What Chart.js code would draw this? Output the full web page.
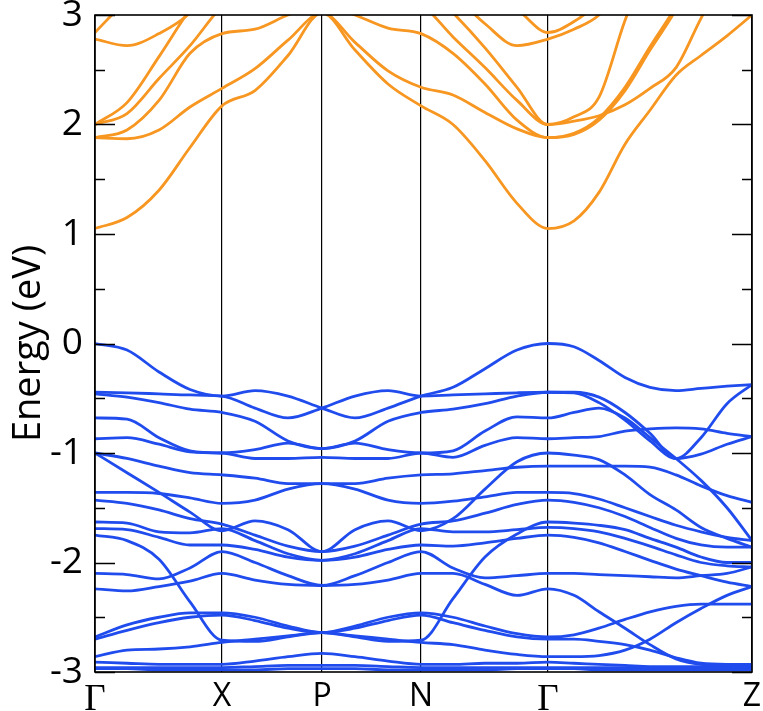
<!DOCTYPE html>
<html>
<head>
<meta charset="utf-8">
<script src="https://cdn.jsdelivr.net/npm/chart.js@4.4.1/dist/chart.umd.min.js"></script>
<style>
  html, body { margin: 0; background: #fff; }
  #wrap { width: 763px; height: 711px; }
</style>
</head>
<body>
<div id="wrap"><canvas id="bands" width="763" height="711"></canvas></div>
<script>
// k-path positions (path length units) where energies were read
const kPath = [0, 0.32, 0.64, 0.95, 1.27, 1.60, 1.93, 2.27, 2.60, 2.93, 3.26,
               3.58, 3.90, 4.22, 4.53, 4.79, 5.04, 5.30, 5.55, 5.81, 6.06, 6.32, 6.57];
const kTicks = [0, 1.27, 2.27, 3.26, 4.53, 6.57];
const kLabels = ['Γ', 'X', 'P', 'N', 'Γ', 'Z'];
const energyTicks = [-3, -2, -1, 0, 1, 2, 3];

// conduction bands (eV)
const conduction = [
  [1.05,1.15,1.40,1.79,2.17, 2.31,2.63,3.02, 2.68,2.37,2.17, 2.0,1.67,1.28,1.05, 1.12,1.38,1.82,2.13,2.45,2.63,2.81,3.0],
  [1.88,1.87,1.95,2.16,2.33, 2.51,2.77,3.02, 2.75,2.49,2.34, 2.27,2.11,1.96,1.88, 1.91,2.04,2.31,2.68,3.05,3.5,3.9,4.2],
  [1.88,1.95,2.22,2.65,2.83, 2.87,3.0,3.1, 3.0,2.88,2.83, 2.65,2.37,2.04,1.88, 1.92,2.06,2.34,2.71,3.08,3.5,3.9,4.2],
  [2.0,2.2,2.62,3.05,3.4, 3.6,3.6,3.5, 3.4,3.2,3.1, 2.8,2.52,2.22,2.0, 2.07,2.25,2.95,3.5,3.9,4.2,4.4,4.5],
  [2.0,2.1,2.42,2.72,3.08, 3.3,3.4,3.4, 3.4,3.35,3.3, 3.02,2.7,2.34,2.0, 2.03,2.08,2.18,2.33,2.52,2.97,3.4,3.8],
  [2.78,2.72,2.83,3.02,3.4, 3.6,3.7,3.7, 3.7,3.6,3.5, 3.2,2.92,2.72,2.78, 2.87,3.0,3.3,3.6,3.9,4.1,4.3,4.4],
  [2.84,3.15,3.5,3.8,4.0, 4.1,4.1,4.1, 4.1,4.0,3.9, 3.5,3.2,3.05,2.84, 2.94,3.12,3.4,3.7,4.0,4.2,4.4,4.5]
];

// valence bands (eV)
const valence = [
  [0,-0.06,-0.26,-0.42,-0.48, -0.43,-0.48,-0.59, -0.68,-0.59,-0.48, -0.40,-0.23,-0.06,0, -0.03,-0.155,-0.31,-0.40,-0.43,-0.41,-0.39,-0.375],
  [-0.445,-0.45,-0.46,-0.47,-0.48, -0.59,-0.68,-0.59, -0.48,-0.43,-0.48, -0.47,-0.46,-0.45,-0.445, -0.445,-0.49,-0.63,-0.82,-1.05,-0.86,-0.55,-0.375],
  [-0.46,-0.49,-0.54,-0.6,-0.63, -0.71,-0.89,-0.96, -0.89,-0.71,-0.63, -0.6,-0.55,-0.48,-0.445, -0.45,-0.54,-0.70,-0.89,-1.05,-1.01,-0.92,-0.85],
  [-0.68,-0.69,-0.86,-0.98,-1.0, -0.97,-0.91,-0.96, -0.91,-0.97,-1.0, -0.98,-0.8,-0.67,-0.68, -0.63,-0.59,-0.68,-0.86,-1.05,-1.25,-1.5,-1.8],
  [-0.87,-0.86,-0.92,-0.99,-1.0, -1.05,-1.05,-1.04, -1.05,-1.05,-1.0, -1.04,-0.93,-0.86,-0.87, -0.86,-0.85,-0.80,-0.78,-0.77,-0.78,-0.82,-0.85],
  [-1.0,-1.05,-1.12,-1.18,-1.2, -1.23,-1.28,-1.28, -1.28,-1.23,-1.2, -1.19,-1.16,-1.13,-1.12, -1.12,-1.12,-1.12,-1.13,-1.2,-1.3,-1.39,-1.45],
  [-1.0,-1.18,-1.36,-1.54,-1.71, -1.62,-1.7,-1.9, -1.7,-1.62,-1.71, -1.6,-1.33,-1.08,-1.0, -1.02,-1.06,-1.2,-1.38,-1.52,-1.68,-1.78,-1.86],
  [-1.36,-1.36,-1.37,-1.41,-1.46, -1.43,-1.33,-1.28, -1.33,-1.43,-1.46, -1.44,-1.40,-1.36,-1.36, -1.37,-1.42,-1.5,-1.58,-1.66,-1.72,-1.77,-1.8],
  [-1.43,-1.46,-1.52,-1.6,-1.65, -1.75,-1.85,-1.9, -1.85,-1.75,-1.65, -1.62,-1.55,-1.47,-1.43, -1.45,-1.5,-1.58,-1.68,-1.78,-1.84,-1.86,-1.86],
  [-1.63,-1.64,-1.72,-1.73,-1.69, -1.8,-1.92,-1.98, -1.92,-1.8,-1.69, -1.72,-1.72,-1.7,-1.68, -1.69,-1.72,-1.78,-1.85,-1.93,-2.0,-2.03,-2.04],
  [-1.69,-1.7,-1.77,-1.84,-1.84, -1.88,-1.95,-1.98, -1.95,-1.88,-1.84, -1.85,-1.82,-1.78,-1.75, -1.77,-1.82,-1.9,-1.98,-2.06,-2.12,-2.18,-2.22],
  [-1.75,-1.8,-1.97,-2.36,-2.71, -2.72,-2.68,-2.64, -2.68,-2.72,-2.71, -2.33,-1.95,-1.74,-1.63, -1.64,-1.66,-1.7,-1.78,-1.86,-1.95,-2.0,-2.0],
  [-2.1,-2.11,-2.15,-2.05,-1.9, -2.0,-2.12,-2.21, -2.12,-2.0,-1.9, -2.05,-2.14,-2.12,-2.1, -2.1,-2.11,-2.12,-2.13,-2.14,-2.12,-2.1,-2.04],
  [-2.24,-2.26,-2.22,-2.17,-2.1, -2.16,-2.2,-2.21, -2.2,-2.16,-2.1, -2.1,-2.2,-2.3,-2.24, -2.3,-2.45,-2.6,-2.75,-2.88,-2.93,-2.94,-2.95],
  [-2.68,-2.57,-2.5,-2.46,-2.46, -2.5,-2.58,-2.64, -2.58,-2.5,-2.46, -2.5,-2.58,-2.65,-2.68, -2.66,-2.6,-2.52,-2.45,-2.4,-2.38,-2.38,-2.38],
  [-2.70,-2.62,-2.55,-2.5,-2.48, -2.53,-2.6,-2.64, -2.6,-2.53,-2.48, -2.55,-2.62,-2.68,-2.70, -2.70,-2.72,-2.75,-2.8,-2.87,-2.92,-2.93,-2.93],
  [-2.86,-2.8,-2.79,-2.77,-2.73, -2.7,-2.67,-2.64, -2.67,-2.7,-2.73, -2.75,-2.8,-2.84,-2.86, -2.86,-2.85,-2.8,-2.7,-2.55,-2.42,-2.3,-2.22],
  [-2.91,-2.92,-2.93,-2.93,-2.93, -2.9,-2.86,-2.83, -2.86,-2.9,-2.93, -2.93,-2.92,-2.92,-2.91, -2.92,-2.93,-2.94,-2.95,-2.95,-2.95,-2.95,-2.95],
  [-2.96,-2.96,-2.96,-2.96,-2.96, -2.95,-2.94,-2.94, -2.94,-2.95,-2.96, -2.96,-2.96,-2.96,-2.96, -2.96,-2.96,-2.96,-2.96,-2.96,-2.96,-2.96,-2.96],
  [-2.97,-2.97,-2.98,-2.98,-2.98, -2.98,-2.97,-2.97, -2.97,-2.98,-2.98, -2.98,-2.98,-2.97,-2.97, -2.97,-2.98,-2.98,-2.98,-2.98,-2.98,-2.98,-2.98]
];

const orange = 'rgb(247,150,32)';
const blue = 'rgb(32,76,238)';

function toDataset(row, color) {
  return {
    data: row.map((e, i) => ({ x: kPath[i], y: e })),
    borderColor: color,
    borderWidth: 2.8,
    pointRadius: 0,
    fill: false,
    cubicInterpolationMode: 'monotone',
    clip: 0
  };
}

const datasets = valence.map(r => toDataset(r, blue))
  .concat(conduction.map(r => toDataset(r, orange)));

// frame and inward tick marks like the original plot
const frameTicks = {
  id: 'frameTicks',
  afterDatasetsDraw(chart) {
    const { ctx, chartArea: a, scales } = chart;
    ctx.save();
    ctx.strokeStyle = '#000';
    ctx.lineWidth = 1.6;
    ctx.strokeRect(a.left, a.top, a.right - a.left, a.bottom - a.top);
    for (let v = -3; v <= 3; v += 0.5) {
      const y = Math.round(scales.y.getPixelForValue(v)) + 0.5;
      const len = Number.isInteger(v) ? 20 : 10;
      ctx.beginPath();
      ctx.moveTo(a.left, y); ctx.lineTo(a.left + len, y);
      ctx.moveTo(a.right, y); ctx.lineTo(a.right - len, y);
      ctx.stroke();
    }
    ctx.restore();
  }
};

new Chart(document.getElementById('bands'), {
  type: 'line',
  data: { datasets },
  options: {
    responsive: false,
    animation: false,
    devicePixelRatio: 1,
    layout: { padding: { top: 15, right: 11, left: 0, bottom: 0 } },
    plugins: { legend: { display: false }, tooltip: { enabled: false } },
    scales: {
      x: {
        type: 'linear',
        min: 0,
        max: 6.57,
        afterBuildTicks: scale => { scale.ticks = kTicks.map(v => ({ value: v })); },
        afterFit: scale => {
          scale.height = 39;
          scale.paddingLeft = 0;
          scale.paddingRight = 0;
        },
        grid: { color: '#000', lineWidth: 1.2, drawTicks: false },
        border: { display: false },
        ticks: {
          autoSkip: false,
          maxRotation: 0,
          padding: 6,
          color: '#000',
          callback: (v, i) => kLabels[i],
          font: ctx => (kLabels[ctx.index] === 'Γ')
            ? { family: 'Liberation Serif', size: 37 }
            : { family: 'Open Sans', size: 32 }
        }
      },
      y: {
        min: -3,
        max: 3,
        afterBuildTicks: scale => { scale.ticks = energyTicks.map(v => ({ value: v })); },
        afterFit: scale => {
          scale.width = 95;
          scale.paddingTop = 0;
          scale.paddingBottom = 0;
        },
        grid: { display: false },
        border: { display: false },
        ticks: {
          padding: 4,
          color: '#000',
          font: { family: 'Open Sans', size: 37 }
        },
        title: {
          display: true,
          text: 'Energy (eV)',
          color: '#000',
          font: { family: 'Open Sans', size: 38 },
          padding: { top: 6, bottom: 0 }
        }
      }
    }
  },
  plugins: [frameTicks]
});
</script>
</body>
</html>
